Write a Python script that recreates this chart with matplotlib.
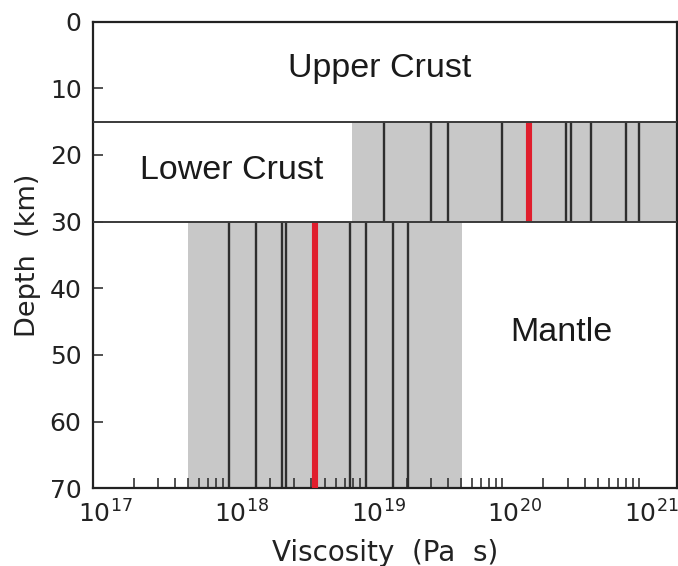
import matplotlib.pyplot as plt
import numpy as np
from matplotlib.transforms import ScaledTranslation

# layer boundaries (km) and the tested viscosity ranges (Pa s)
Boundaries = [15, 30]
LowerCrustRange = [7.9e18, 2.0e21]
MantleRange = [5.0e17, 5.05e19]
LowerCrustDepth = [15, 30]
MantleDepth = [30, 70]

# individual models and best fit (red)
LowerCrustModels = [1.37e19, 2.99e19, 3.99e19, 1.0e20, 2.93e20, 3.17e20, 4.45e20, 8.0e20, 9.93e20]
LowerCrustBest = 1.57e20
MantleModels = [1.0e18, 1.57e18, 2.44e18, 2.61e18, 7.67e18, 1.0e19, 1.57e19, 2.03e19]
MantleBest = 4.26e18

TickDepths = [0, 10, 20, 30, 40, 50, 60, 70]
Decades = [1e17, 1e18, 1e19, 1e20, 1e21]

plt.rcParams['font.family'] = 'DejaVu Sans'
plt.rcParams['mathtext.fontset'] = 'dejavusans'

fig = plt.figure(figsize=(6.78, 5.66), dpi=100)
ax = fig.add_axes([0.1367, 0.1373, 0.8618, 0.8244])

gris = '#c8c8c8'
ax.fill_betweenx(LowerCrustDepth, LowerCrustRange[0], LowerCrustRange[1], color=gris, lw=0, zorder=1)
ax.fill_betweenx(MantleDepth, MantleRange[0], MantleRange[1], color=gris, lw=0, zorder=1)

ax.vlines(LowerCrustModels, LowerCrustDepth[0], LowerCrustDepth[1], color='#2e2e2e', lw=1.7, zorder=2)
ax.vlines(MantleModels, MantleDepth[0], MantleDepth[1], color='#2e2e2e', lw=1.7, zorder=2)
ax.vlines([LowerCrustBest], LowerCrustDepth[0], LowerCrustDepth[1], color='#e01e2d', lw=4.4, zorder=3)
ax.vlines([MantleBest], MantleDepth[0], MantleDepth[1], color='#e01e2d', lw=4.4, zorder=3)

ax.hlines(Boundaries, 1e17, 2e21, color='#3a3a3a', lw=1.4, zorder=4)

ax.text(1.27e19, 7.0, 'Upper Crust', fontsize=24.5, ha='center', va='center', color='#1a1a1a', family='Liberation Sans')
ax.text(1.04e18, 22.4, 'Lower Crust', fontsize=24.5, ha='center', va='center', color='#1a1a1a', family='Liberation Sans')
ax.text(2.7e20, 46.7, 'Mantle', fontsize=24.5, ha='center', va='center', color='#1a1a1a', family='Liberation Sans')

ax.set_xscale('log')
ax.set_xlim(1e17, 1.9e21)
ax.set_ylim(70, 0)
ax.set_xticks(Decades)
ax.set_yticks(TickDepths)

ax.tick_params(which='both', direction='in', length=7, width=1.2, color='#333333',
               top=False, right=False, labelsize=18, labelcolor='#222222')
ax.tick_params(axis='x', pad=9)
ax.tick_params(axis='y', pad=8)
for s in ax.spines.values():
    s.set_linewidth(1.6)
    s.set_color('#222222')

# decalage des etiquettes : le "10" centre sur la graduation
for t in ax.xaxis.get_major_ticks():
    t.label1.set_transform(t.label1.get_transform() + ScaledTranslation(9/72, 0, fig.dpi_scale_trans))

ax.set_xlabel('Viscosity  (Pa  s)', fontsize=20, color='#222222', labelpad=8)
ax.set_ylabel('Depth  (km)', fontsize=19.5, color='#222222', labelpad=6)

plt.savefig('out.png', dpi=100)
